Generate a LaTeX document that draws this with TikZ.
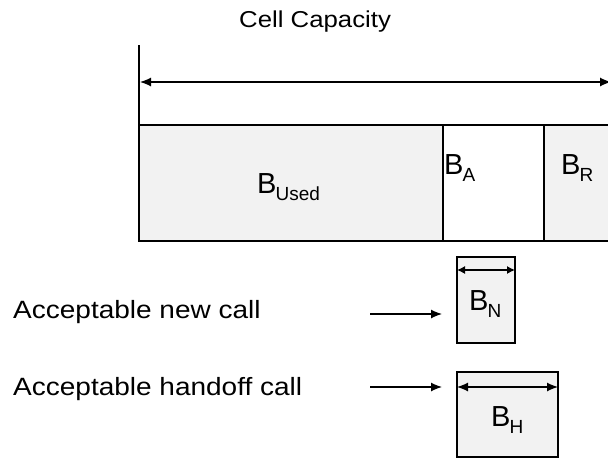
\documentclass[tikz,border=0pt]{standalone}
\usepackage{fontspec}
\setmainfont{Liberation Sans}
\newfontfamily\wide{Liberation Sans}[FakeStretch=1.12]
\usetikzlibrary{arrows.meta}
\tikzset{
  seg/.style={draw=black, line width=1.3pt, inner sep=0pt, outer sep=0pt},
  stip/.style={fill=black!5},
  lbl/.style={inner sep=0pt, anchor=base west},
  tip/.style={-{Latex[length=11pt,width=9pt]}},
  dtip/.style={{Latex[length=11pt,width=9pt]}-{Latex[length=11pt,width=9pt]}},
  stip2/.style={{Latex[length=8pt,width=8pt]}-{Latex[length=8pt,width=8pt]}},
  wire/.style={line width=1.2pt}
}
\newcommand{\Bsub}[1]{{\fontsize{29}{29}\selectfont B}\kern-1pt\raisebox{-7.5pt}{\fontsize{19}{19}\selectfont #1}}
\begin{document}
\begin{tikzpicture}[x=1pt,y=-1pt]
\useasboundingbox (0,0) rectangle (608,459);
\clip (0,0) rectangle (608,459);
% title
\node[lbl] (title) at (239,27) {\fontsize{23}{23}\selectfont\wide Cell Capacity};
% bar segments
\node[seg, stip, minimum width=304pt, minimum height=116pt] (used) at (291,183) {};
\node[seg, minimum width=101pt, minimum height=116pt] (ba) at (493.5,183) {};
\node[seg, stip, minimum width=80pt, minimum height=116pt] (br) at (584,183) {};
% vertical line and capacity arrow
\coordinate (vtop) at (139,45);
\draw[wire] (vtop) -- (used.north west);
\coordinate (capL) at (140,82);
\coordinate (capR) at (611,82);
\draw[wire, dtip] (capL) -- (capR);
% labels in bar
\node[lbl] (lused) at (257,193) {\Bsub{Used}};
\node[lbl] (la) at (444,174) {\Bsub{A}};
\node[lbl] (lr) at (561,174) {\Bsub{R}};
% request boxes
\node[seg, stip, minimum width=58pt, minimum height=86pt] (bn) at (486,300) {};
\node[seg, stip, minimum width=101pt, minimum height=85pt] (bh) at (507.5,414.5) {};
\draw[wire, stip2] ([yshift=-13pt]bn.north west) -- ([yshift=-13pt]bn.north east);
\draw[wire, dtip] ([yshift=-15pt]bh.north west) -- ([yshift=-15pt]bh.north east);
\node[lbl] (ln) at (469,310) {\Bsub{N}};
\node[lbl] (lh) at (491,426) {\Bsub{H}};
% call labels and arrows
\node[lbl] (newcall) at (13,318) {\fontsize{25}{25}\selectfont\wide Acceptable new call};
\node[lbl] (hocall) at (13,395) {\fontsize{25}{25}\selectfont\wide Acceptable handoff call};
\coordinate (na) at (370,314);
\coordinate (ha) at (370,387);
\draw[wire, tip] (na) -- ([xshift=-15pt]bn.west |- na);
\draw[wire, tip] (ha) -- ([xshift=-15pt]bh.west |- ha);
\end{tikzpicture}
\end{document}
